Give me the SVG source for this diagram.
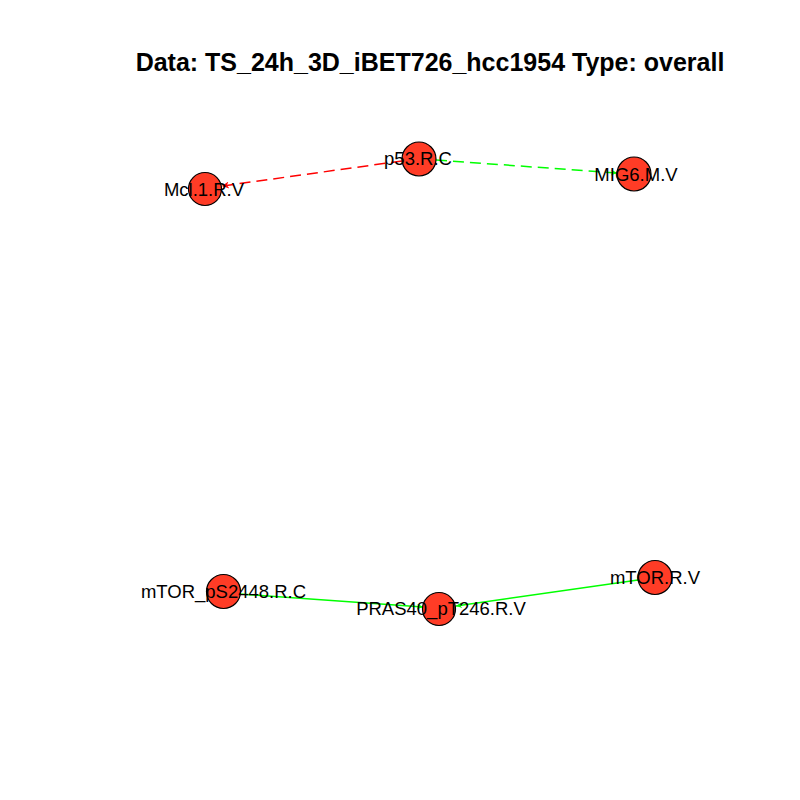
<svg xmlns="http://www.w3.org/2000/svg" width="800" height="800" viewBox="0 0 800 800">
<style>
.node{fill:#ff3c26;stroke:#000;stroke-width:1.2}
.lbl{font-family:"Liberation Sans",Arial,sans-serif;font-size:18.5px;fill:#000;text-anchor:middle}
.title{font-family:"Liberation Sans",Arial,sans-serif;font-size:25px;font-weight:bold;fill:#000;text-anchor:middle}
.e{fill:none;stroke-width:1.5}
</style>
<defs>
<marker id="ar" viewBox="0 0 10 10" refX="10" refY="5" markerWidth="12" markerHeight="7" orient="auto" markerUnits="userSpaceOnUse"><path d="M0,0 L10,5 L0,10 L3,5 z" fill="#ff0000"/></marker>
<marker id="ag" viewBox="0 0 10 10" refX="10" refY="5" markerWidth="12" markerHeight="6" orient="auto" markerUnits="userSpaceOnUse"><path d="M0,0 L10,5 L0,10 L3,5 z" fill="#00ff00"/></marker>
</defs>
<rect width="800" height="800" fill="#fff"/>
<text class="title" x="430" y="71">Data: TS_24h_3D_iBET726_hcc1954 Type: overall</text>
<g id="edges">
<line class="e" x1="402" y1="161" x2="222" y2="186" stroke="#ff0000" stroke-dasharray="11,6" marker-end="url(#ar)"/>
<line class="e" x1="436" y1="160" x2="617" y2="173" stroke="#00ff00" stroke-dasharray="11,6" marker-end="url(#ag)"/>
<line class="e" x1="240" y1="594" x2="423" y2="607" stroke="#00ff00" marker-end="url(#ag)"/>
<line class="e" x1="638" y1="580" x2="456" y2="606" stroke="#00ff00" marker-end="url(#ag)"/>
</g>
<g id="n-mcl1"><circle class="node" cx="205" cy="189" r="16.5"/><text class="lbl" x="204" y="196">Mcl.1.R.V</text></g>
<g id="n-p53"><circle class="node" cx="419" cy="159" r="17"/><text class="lbl" x="418" y="165">p53.R.C</text></g>
<g id="n-mig6"><circle class="node" cx="634" cy="174" r="17"/><text class="lbl" x="636" y="181">MIG6.M.V</text></g>
<g id="n-mtorp"><circle class="node" cx="223.5" cy="591.5" r="17"/><text class="lbl" x="223.5" y="598">mTOR_pS2448.R.C</text></g>
<g id="n-pras40"><circle class="node" cx="439" cy="609" r="16.5"/><text class="lbl" x="441" y="615">PRAS40_pT246.R.V</text></g>
<g id="n-mtor"><circle class="node" cx="655" cy="577.5" r="17"/><text class="lbl" x="655" y="584">mTOR.R.V</text></g>
</svg>
